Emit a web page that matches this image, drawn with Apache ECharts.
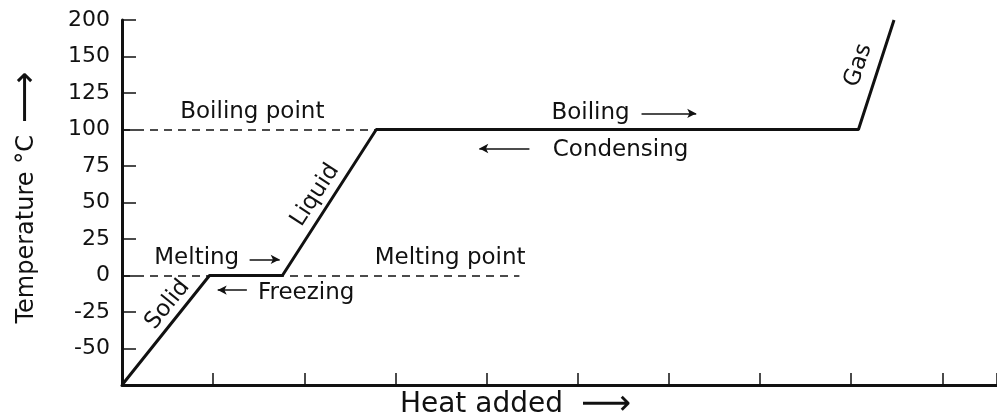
<!DOCTYPE html>
<html><head><meta charset="utf-8">
<script src="https://cdn.jsdelivr.net/npm/echarts@6/dist/echarts.min.js"></script>
<style>html,body{margin:0;padding:0;background:#fff}#c{width:997px;height:419px}</style>
</head><body><div id="c"></div>
<script>
// Heating curve data (x = heat added in tick units, y = axis value)
const heatX = [0, 0.96, 1.76, 2.79, 8.08, 8.47];
const tempY = [-75, 0, 0, 100, 100, 175];
// y-axis ticks (the top tick is labelled 200 in the original)
const yTickValues = [-75, -50, -25, 0, 25, 50, 75, 100, 125, 150, 175];
const yTickLabels = ['', '-50', '-25', '0', '25', '50', '75', '100', '125', '150', '200'];
// reference levels
const boilingPoint = 100;
const meltingPoint = 0;
const boilingDashEnd = 2.79;
const meltingDashEnd = 4.36;
// annotations
const annoText = ['Boiling point', 'Melting', 'Freezing', 'Melting point', 'Boiling', 'Condensing', 'Solid', 'Liquid', 'Gas'];
const annoX = [1.43, 0.82, 2.02, 3.6, 5.14, 5.47, 0.5, 2.12, 8.08];
const annoY = [112, 12, -12, 12, 111, 86, -20, 55, 144];
const annoRot = [0, 0, 0, 0, 0, 0, 51, 57, 72];
// arrows: [x0, y0, x1, y1]
const arrows = [
  [1.4, 11, 1.73, 11],
  [1.37, -10, 1.05, -10],
  [5.7, 111, 6.3, 111],
  [4.47, 87, 3.92, 87]
];

const FONT = 'DejaVu Sans';
const INK = '#111111';
const chart = echarts.init(document.getElementById('c'), null, {renderer: 'canvas'});

const lineData = heatX.map((x, i) => [x, tempY[i]]);
const annoData = annoText.map((t, i) => ({
  value: [annoX[i], annoY[i]],
  label: {show: true, formatter: t, rotate: annoRot[i], position: 'inside',
          color: INK, fontFamily: FONT, fontSize: 23, textBorderWidth: 0}
}));

chart.setOption({
  animation: false,
  backgroundColor: '#fff',
  grid: {left: 122, right: 0, top: 20, bottom: 34, containLabel: false, outerBoundsMode: 'none'},
  xAxis: {
    type: 'value', min: 0, max: 9.6, interval: 1,
    axisLine: {show: true, onZero: false, lineStyle: {color: INK, width: 3}},
    axisTick: {show: true, inside: true, length: 12, lineStyle: {color: INK, width: 1.5}},
    axisLabel: {show: false},
    splitLine: {show: false},
    name: '{t|Heat added}{s| }{a|\u27F6}', nameLocation: 'middle', nameGap: 6,
    nameTextStyle: {
      padding: [0, 88, 0, 0],
      rich: {
        t: {fontFamily: FONT, fontSize: 28, color: INK, lineHeight: 27},
        s: {width: 18, fontSize: 28, lineHeight: 27},
        a: {fontFamily: FONT, fontSize: 35, color: INK, lineHeight: 27}
      }
    }
  },
  yAxis: {
    type: 'value', min: -75, max: 175, interval: 25,
    axisLine: {show: true, lineStyle: {color: INK, width: 3}},
    axisTick: {show: true, inside: true, length: 14, lineStyle: {color: INK, width: 1.5}},
    axisLabel: {
      fontFamily: FONT, fontSize: 22, color: INK, margin: 12,
      formatter: v => yTickLabels[yTickValues.indexOf(Math.round(v))] ?? ''
    },
    splitLine: {show: false},
    name: '{t|Temperature \u00B0C}{s| }{a|\u27F6}', nameLocation: 'middle', nameGap: 83, nameRotate: 90,
    nameTextStyle: {
      padding: [0, 0, 0, 10],
      rich: {
        t: {fontFamily: FONT, fontSize: 24, color: INK, lineHeight: 24},
        s: {width: 12, fontSize: 24, lineHeight: 24},
        a: {fontFamily: FONT, fontSize: 36, color: INK, lineHeight: 24}
      }
    }
  },
  series: [
    {
      type: 'line', data: lineData, symbol: 'none', clip: false,
      lineStyle: {color: INK, width: 3},
      markLine: {
        silent: true, symbol: ['none', 'none'],
        lineStyle: {color: INK, width: 1.5, type: [8, 6]},
        label: {show: false},
        data: [
          [{coord: [0, boilingPoint]}, {coord: [boilingDashEnd, boilingPoint]}],
          [{coord: [0, meltingPoint]}, {coord: [meltingDashEnd, meltingPoint]}]
        ]
      },
      z: 3
    },
    {
      type: 'line', data: [], symbol: 'none',
      markLine: {
        silent: true, symbol: ['none', 'arrow'], symbolSize: [7, 9],
        lineStyle: {color: INK, width: 1.5, type: 'solid'},
        label: {show: false},
        data: arrows.map(a => [{coord: [a[0], a[1]]}, {coord: [a[2], a[3]]}])
      }
    },
    {
      type: 'scatter', data: annoData, symbolSize: 0,
      itemStyle: {color: 'transparent', opacity: 1},
      z: 4
    }
  ]
});
</script></body></html>
